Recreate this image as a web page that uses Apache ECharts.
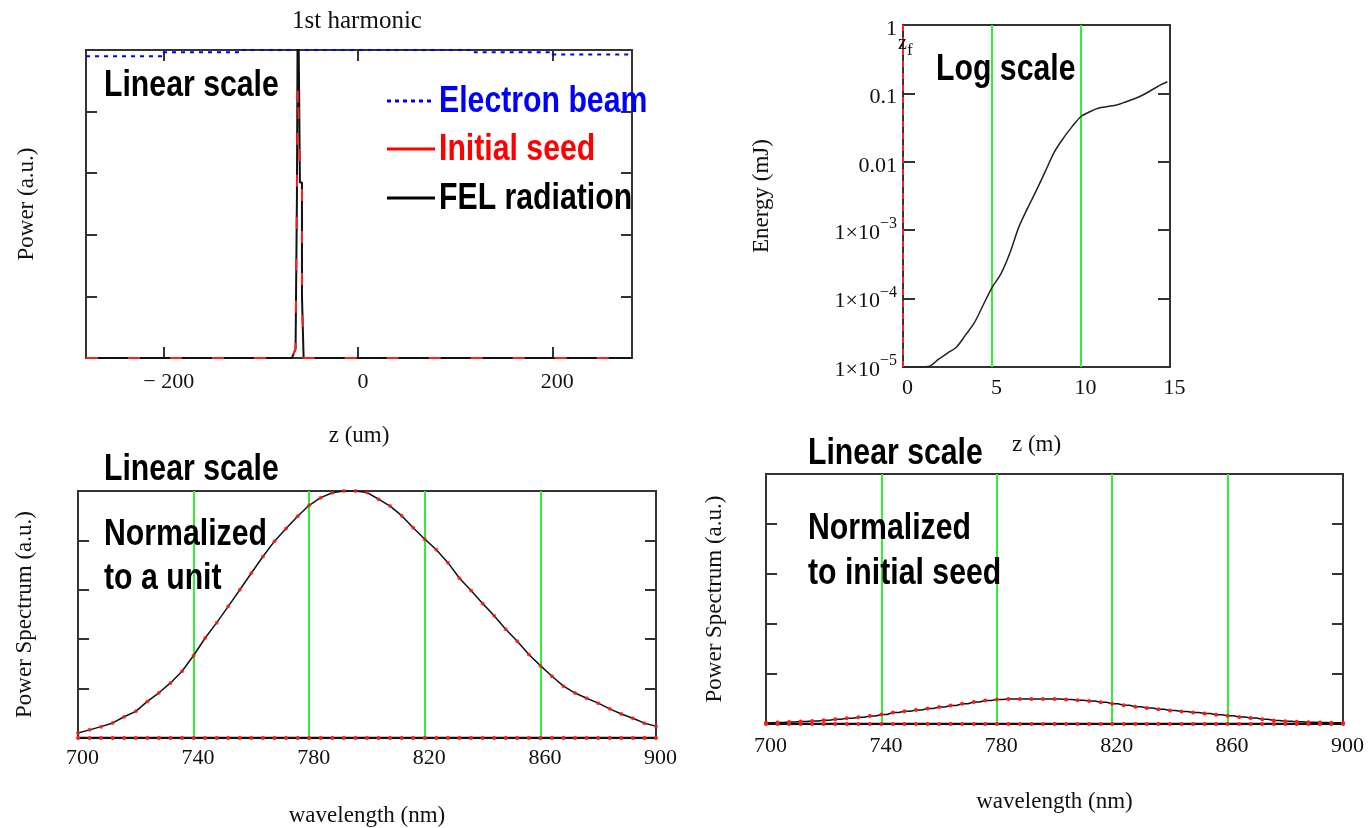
<!DOCTYPE html>
<html><head><meta charset="utf-8">
<script src="https://cdn.jsdelivr.net/npm/echarts@6/dist/echarts.min.js"></script>
<style>html,body{margin:0;padding:0;background:#fff}#c{width:1368px;height:828px}</style>
</head><body><div id="c"></div>
<script>
// ---- Top-left: 1st harmonic, power vs z (um), linear scale ----
const zUm        = [-280, -68, -64.3, -62.9, -61.9, -60.9, -59.8, -57.7, -57.7, -56, -56, 282];
const felPower   = [0, 0, 0.03, 0.52, 1.3, 1.3, 0.57, 0.57, 0.2, 0.2, 0, 0];
const seedPower  = [0, 0, 0.03, 0.52, 0.89, 0.89, 0.57, 0.57, 0.2, 0.2, 0, 0];
const beamZ      = [-280, -200, -120, 120, 200, 282];
const beamPower  = [0.98, 0.993, 1.0, 0.993, 0.985, 0.985];
const zTicksTL   = [-200, 0, 200];

// ---- Top-right: energy vs z (m), log scale ----
const zM     = [0, 0.5, 1, 1.5, 2, 2.5, 3, 3.5, 4, 4.5, 5, 5.5, 6, 6.5, 7, 7.5, 8, 8.5, 9, 9.5, 10, 10.5, 11, 11.5, 12, 12.5, 13, 13.5, 14, 14.5, 14.85];
const energy = [1e-5, 1e-5, 1e-5, 1.03e-5, 1.3e-5, 1.6e-5, 1.95e-5, 2.9e-5, 4.4e-5, 8e-5, 1.45e-4, 2.3e-4, 4.6e-4, 1.1e-3, 2.1e-3, 3.85e-3, 7.3e-3, 1.39e-2, 2.2e-2, 3.27e-2, 4.6e-2, 5.4e-2, 6.1e-2, 6.43e-2, 6.76e-2, 7.5e-2, 8.36e-2, 9.55e-2, 0.113, 0.134, 0.148];

// ---- Bottom: spectra vs wavelength (nm) ----
const wavelength = [700,704,708,712,716,720,724,728,732,736,740,744,748,752,756,760,764,768,772,776,780,784,788,792,796,800,804,808,812,816,820,824,828,832,836,840,844,848,852,856,860,864,868,872,876,880,884,888,892,896,900];
const specUnit = [0.02,0.033,0.046,0.061,0.086,0.108,0.148,0.183,0.223,0.27,
  0.334,0.405,0.467,0.533,0.60,0.668,0.735,0.797,0.848,0.898,
  0.942,0.973,0.993,1.0,1.0,0.994,0.967,0.939,0.9,0.851,
  0.805,0.762,0.71,0.647,0.597,0.545,0.495,0.44,0.392,0.338,
  0.293,0.25,0.21,0.182,0.161,0.141,0.118,0.097,0.08,0.06,0.048];
const seedUnit = [0.02,0.033,0.046,0.061,0.086,0.108,0.148,0.183,0.223,0.27,
  0.334,0.405,0.467,0.533,0.60,0.668,0.735,0.797,0.848,0.898,
  0.942,0.973,0.993,1.0,1.0,0.994,0.967,0.939,0.9,0.851,
  0.805,0.762,0.71,0.647,0.597,0.545,0.495,0.44,0.392,0.338,
  0.293,0.25,0.21,0.182,0.161,0.141,0.118,0.097,0.08,0.06,0.048];
const specVsSeed = [0.005,0.006,0.008,0.01,0.012,0.015,0.019,0.023,0.027,0.032,
  0.038,0.046,0.051,0.056,0.062,0.068,0.074,0.081,0.088,0.094,
  0.098,0.1,0.1,0.1,0.1,0.1,0.098,0.095,0.092,0.087,
  0.081,0.075,0.069,0.064,0.059,0.054,0.05,0.046,0.042,0.037,
  0.033,0.028,0.024,0.019,0.014,0.011,0.009,0.007,0.006,0.005,0.005];
const zeroLine = [0,0,0,0,0,0,0,0,0,0,0,0,0,0,0,0,0,0,0,0,0,0,0,0,0,0,0,0,0,0,0,0,0,0,0,0,0,0,0,0,0,0,0,0,0,0,0,0,0,0,0];

const zip = (xs, ys) => xs.map((x, i) => [x, ys[i]]);

const SERIF = '"Liberation Serif", "DejaVu Serif", serif';
const SANS = '"Liberation Sans", Arial, sans-serif';
const BORDER = '#333';
const GREEN = '#33ee33';
const tickFont = { fontFamily: SERIF, fontSize: 22, color: '#111' };
const nameFont = { fontFamily: SERIF, fontSize: 23, color: '#111' };
const noLine = { show: false, onZero: false };

function yLin(grid, pos, name, gap) {
  return {
    gridIndex: grid, type: 'value', position: pos, min: 0, max: 1, interval: 0.2,
    axisLine: noLine,
    axisTick: { show: true, inside: true, length: 11, lineStyle: { color: BORDER, width: 2 } },
    axisLabel: { show: false }, splitLine: { show: false },
    name: name || '', nameLocation: 'middle', nameGap: gap || 0, nameTextStyle: nameFont
  };
}
function xWave(grid, margin) {
  return {
    gridIndex: grid, type: 'value', min: 700, max: 900, interval: 40,
    axisLine: noLine, axisTick: { show: false },
    axisLabel: Object.assign({ margin: margin, padding: [0, 0, 0, 9] }, tickFont),
    splitLine: { show: true, showMinLine: false, showMaxLine: false, lineStyle: { color: GREEN, width: 2 } },
    name: 'wavelength (nm)', nameLocation: 'middle', nameGap: 66, nameTextStyle: nameFont
  };
}
function yLog(pos, withLabels) {
  return {
    gridIndex: 1, type: 'log', logBase: 10, position: pos, min: 1e-5, max: 1,
    axisLine: noLine,
    axisTick: { show: true, inside: true, length: 12, lineStyle: { color: BORDER, width: 2 } },
    splitLine: { show: false },
    axisLabel: withLabels ? {
      margin: 6,
      formatter: function (v) {
        const e = Math.round(Math.log10(v));
        if (e >= -2) return '{p|' + (e === 0 ? '1' : e === -1 ? '0.1' : '0.01') + '}';
        return '{a|1×10}{s|−' + (-e) + '}';
      },
      rich: {
        p: { fontFamily: SERIF, fontSize: 22, color: '#111', padding: [8, 0, 0, 0] },
        a: { fontFamily: SERIF, fontSize: 22, color: '#111', lineHeight: 22, verticalAlign: 'bottom' },
        s: { fontFamily: SERIF, fontSize: 16, color: '#111', lineHeight: 28, verticalAlign: 'top', padding: [0, 0, 12, 0] }
      }
    } : { show: false },
    name: withLabels ? 'Energy (mJ)' : '', nameLocation: 'middle', nameGap: 130, nameTextStyle: nameFont
  };
}

function bold(x, yMid, text, color) {
  return {
    type: 'text', x: x, y: yMid, scaleX: 0.84, scaleY: 1, originX: 0, originY: 0, z: 100,
    style: {
      text: text, x: 0, y: 0, fill: color || '#000',
      font: 'bold 36px ' + SANS,
      textAlign: 'left', align: 'left', textVerticalAlign: 'middle', verticalAlign: 'middle'
    }
  };
}
function serifText(x, yMid, text, size, align) {
  return {
    type: 'text', x: x, y: yMid, z: 100,
    style: {
      text: text, x: 0, y: 0, fill: '#111', font: size + 'px ' + SERIF,
      textAlign: align, align: align, textVerticalAlign: 'middle', verticalAlign: 'middle'
    }
  };
}
function legendLine(x1, x2, y, color, dash) {
  return {
    type: 'line', z: 100,
    shape: { x1: x1, y1: y, x2: x2, y2: y },
    style: { stroke: color, lineWidth: 3, lineDash: dash || null }
  };
}

const chart = echarts.init(document.getElementById('c'), null, { renderer: 'canvas' });
chart.setOption({
  animation: false,
  backgroundColor: '#fff',
  grid: [
    { left: 86, top: 50, width: 546, height: 308, show: true, borderColor: BORDER, borderWidth: 2 },
    { left: 903, top: 25, width: 267, height: 342, show: true, borderColor: BORDER, borderWidth: 2 },
    { left: 78, top: 491, width: 578, height: 247, show: true, borderColor: BORDER, borderWidth: 2 },
    { left: 766, top: 474, width: 577, height: 250, show: true, borderColor: BORDER, borderWidth: 2 }
  ],
  xAxis: [
    {
      gridIndex: 0, type: 'value', min: -280, max: 282,
      axisLine: noLine,
      axisTick: { show: true, inside: true, length: 11, customValues: zTicksTL, lineStyle: { color: BORDER, width: 2 } },
      axisLabel: Object.assign({ customValues: zTicksTL, margin: 13, padding: [0, 0, 0, 10],
        formatter: v => v < 0 ? '− ' + Math.abs(v) : String(v) }, tickFont),
      splitLine: { show: false },
      name: 'z (um)', nameLocation: 'middle', nameGap: 66, nameTextStyle: nameFont
    },
    {
      gridIndex: 0, type: 'value', position: 'top', min: -280, max: 282,
      axisLine: noLine,
      axisTick: { show: true, inside: true, length: 11, customValues: zTicksTL, lineStyle: { color: BORDER, width: 2 } },
      axisLabel: { show: false }, splitLine: { show: false }
    },
    {
      gridIndex: 1, type: 'value', min: 0, max: 15, interval: 5,
      axisLine: noLine, axisTick: { show: false },
      axisLabel: Object.assign({ margin: 10, padding: [0, 0, 0, 9] }, tickFont),
      splitLine: { show: true, showMinLine: false, showMaxLine: false, lineStyle: { color: GREEN, width: 2 } },
      name: 'z (m)', nameLocation: 'middle', nameGap: 66, nameTextStyle: nameFont
    },
    xWave(2, 9),
    xWave(3, 11)
  ],
  yAxis: [
    yLin(0, 'left', 'Power (a.u.)', 48),
    yLin(0, 'right'),
    yLog('left', true),
    yLog('right', false),
    yLin(2, 'left', 'Power Spectrum (a.u.)', 42),
    yLin(2, 'right'),
    yLin(3, 'left', 'Power Spectrum (a.u.)', 40),
    yLin(3, 'right')
  ],
  series: [
    { name: 'Electron beam', type: 'line', xAxisIndex: 0, yAxisIndex: 0, step: 'end', symbol: 'none',
      data: zip(beamZ, beamPower), lineStyle: { color: '#0000ff', width: 2, type: [4, 5] }, z: 3 },
    { name: 'FEL radiation', type: 'line', xAxisIndex: 0, yAxisIndex: 0, symbol: 'none',
      data: zip(zUm, felPower), lineStyle: { color: '#111', width: 2 }, z: 4 },
    { name: 'Initial seed', type: 'line', xAxisIndex: 0, yAxisIndex: 0, symbol: 'none',
      data: zip(zUm, seedPower), lineStyle: { color: '#ff2020', width: 2, type: [12, 30] }, z: 5 },
    { name: 'Energy', type: 'line', xAxisIndex: 2, yAxisIndex: 2, symbol: 'none', smooth: 0.3,
      data: zip(zM, energy), lineStyle: { color: '#222', width: 1.5 }, z: 4,
      markLine: { silent: true, symbol: ['none', 'none'], label: { show: false },
        lineStyle: { color: '#ff2020', width: 2, type: [6, 6] }, data: [{ xAxis: 0 }] } },
    { name: 'FEL spectrum (unit)', type: 'line', xAxisIndex: 3, yAxisIndex: 4, symbol: 'none',
      data: zip(wavelength, specUnit), lineStyle: { color: '#111', width: 1.5 }, z: 4 },
    { name: 'Seed spectrum (unit)', type: 'scatter', xAxisIndex: 3, yAxisIndex: 4, symbol: 'circle', symbolSize: 4,
      data: zip(wavelength, seedUnit), itemStyle: { color: '#ff1a1a' }, z: 5 },
    { name: 'Zero (unit)', type: 'line', xAxisIndex: 3, yAxisIndex: 4, symbol: 'circle', symbolSize: 4, showSymbol: true,
      data: zip(wavelength, zeroLine), lineStyle: { color: '#111', width: 2.5 }, itemStyle: { color: '#ff1a1a', borderWidth: 0 }, z: 5 },
    { name: 'FEL spectrum (seed)', type: 'line', step: 'middle', xAxisIndex: 4, yAxisIndex: 6, symbol: 'circle', symbolSize: 4, showSymbol: true,
      data: zip(wavelength, specVsSeed), lineStyle: { color: '#111', width: 1.5 }, itemStyle: { color: '#ff1a1a', borderWidth: 0 }, z: 5 },
    { name: 'Zero (seed)', type: 'line', xAxisIndex: 4, yAxisIndex: 6, symbol: 'circle', symbolSize: 4, showSymbol: true,
      data: zip(wavelength, zeroLine), lineStyle: { color: '#111', width: 2.5 }, itemStyle: { color: '#ff1a1a', borderWidth: 0 }, z: 5 }
  ],
  graphic: [
    serifText(357, 21, '1st harmonic', 25, 'center'),
    bold(104, 86.4, 'Linear scale'),
    legendLine(387, 431, 101, '#0000ff', [4, 4]),
    legendLine(387, 435, 149, '#ff0000'),
    legendLine(387, 435, 198, '#000000'),
    bold(439, 102.1, 'Electron beam', '#0000ff'),
    bold(439, 150.4, 'Initial seed', '#ff0000'),
    bold(439, 198.8, 'FEL radiation', '#000000'),
    bold(936, 70.4, 'Log scale'),
    serifText(898, 43.5, 'z', 20, 'left'),
    serifText(907, 51, 'f', 17, 'left'),
    bold(104, 470.4, 'Linear scale'),
    bold(104, 535.4, 'Normalized'),
    bold(104, 578.8, 'to a unit'),
    bold(808, 453.8, 'Linear scale'),
    bold(808, 528.8, 'Normalized'),
    bold(808, 573.8, 'to initial seed')
  ]
});
</script>
</body></html>
